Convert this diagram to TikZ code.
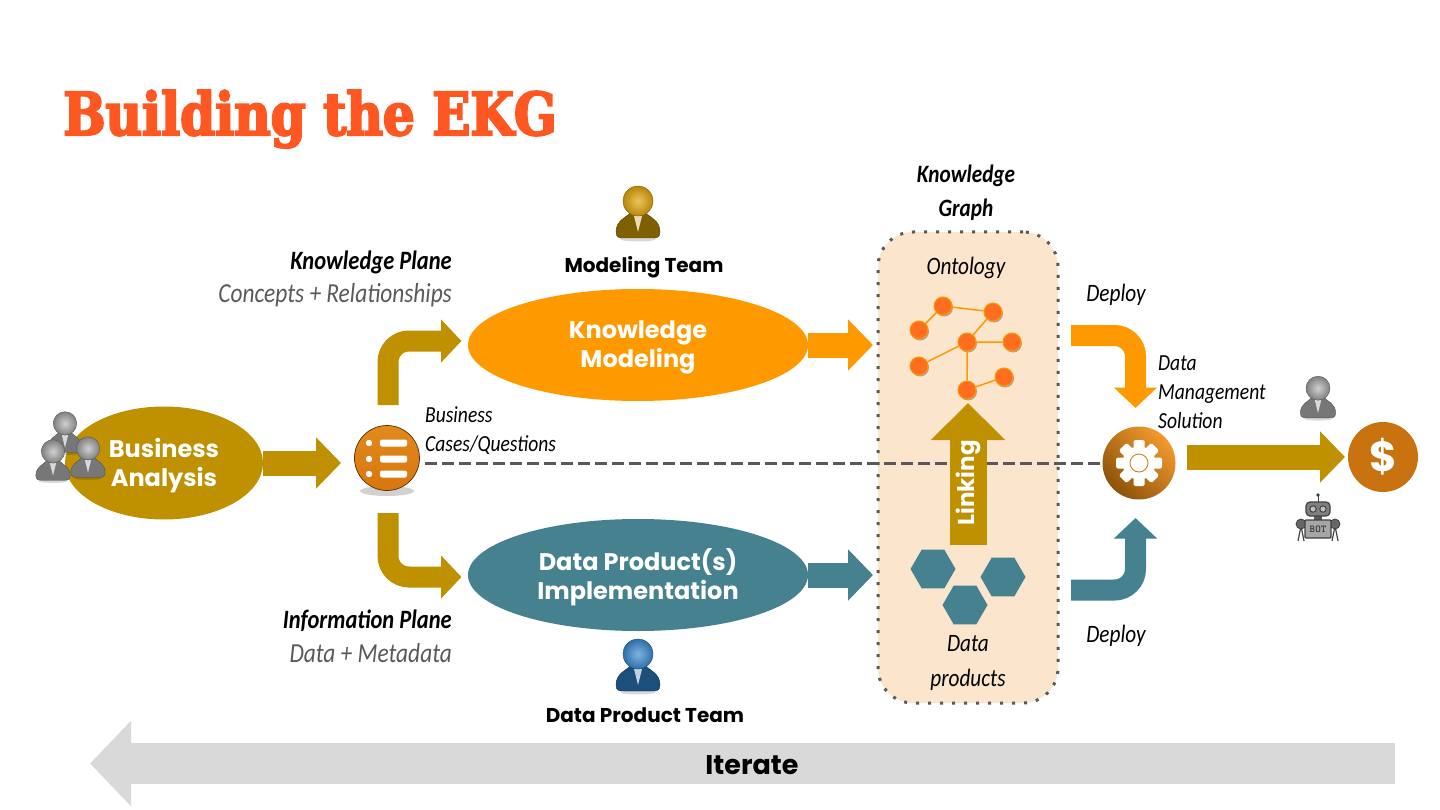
\documentclass[tikz,border=0pt]{standalone}
\usepackage{fontspec}
\setmainfont{Poppins}
\newfontfamily\titlefont[FakeStretch=0.85,FakeBold=3.5]{DejaVu Serif Bold}
\newfontfamily\hand[FakeStretch=0.85]{Carlito}
\usetikzlibrary{arrows.meta,shapes.geometric,shadows}
\definecolor{kgold}{HTML}{BF9000}
\definecolor{korange}{HTML}{FF9900}
\definecolor{kteal}{HTML}{45818E}
\definecolor{kpeach}{HTML}{FCE5CD}
\definecolor{ktitle}{HTML}{FF5722}
\definecolor{kdash}{HTML}{595959}
\definecolor{kgrey}{HTML}{D9D9D9}
\definecolor{kdollar}{HTML}{C8730F}
\definecolor{knode}{HTML}{FF6D1F}
\definecolor{listtop}{HTML}{E08A1C}
\definecolor{listbot}{HTML}{D9760F}
\definecolor{geartop}{HTML}{F39A2E}
\definecolor{gearbot}{HTML}{8C5208}
\definecolor{greyhead}{HTML}{808080}
\definecolor{greylight}{HTML}{D0D0D0}
\definecolor{greybody}{HTML}{777777}
\definecolor{goldhead}{HTML}{B8860B}
\definecolor{goldlight}{HTML}{EAC55A}
\definecolor{goldbody}{HTML}{7F6000}
\definecolor{bluehead}{HTML}{2F6FA8}
\definecolor{bluelight}{HTML}{7FB3E0}
\definecolor{bluebody}{HTML}{1C4F7A}
\tikzset{
    pics/person/.style n args={3}{code={
        \fill[black, opacity=0.15] (0,27) ellipse (18 and 2.5);
        \fill[#3, draw=#3!70!black] (-22,20) .. controls (-22,8) and (-12,6) .. (-7,0) -- (7,0) .. controls (12,6) and (22,8) .. (22,20) .. controls (22,26) and (18,26) .. (14,26) -- (-14,26) .. controls (-18,26) and (-22,26) .. (-22,20);
        \fill[white!70!#1] (-4,4) -- (4,4) -- (0,20) -- cycle;
        \shade[inner color=#2, outer color=#1, draw=#1!70!black] (0,-11) circle (15);
    }},
    pics/robot/.style={code={
        \draw[black!75, line width=1pt] (0,-15) -- (0,-22);
        \fill[black!75] (0,-23) circle (1.8);
        \fill[black!65] (-4,-3) rectangle (4,3);
        \draw[black!75, fill=black!50, line width=1.2pt, rounded corners=4pt] (-12,-16) rectangle (12,-2);
        \draw[black!75, fill=black!25, line width=1pt] (-5,-9) circle (3.2) (5,-9) circle (3.2);
        \draw[black!75, line width=1.2pt] (-17,8) -- (-20,23) (-17,8) -- (-14,23) (17,8) -- (20,23) (17,8) -- (14,23);
        \draw[black!75, fill=black!60, line width=0.8pt] (-17,6) circle (5) (17,6) circle (5);
        \draw[black!75, fill=black!35, line width=1.2pt, rounded corners=1pt] (-13,2) rectangle (13,20);
        \node[font=\ttfamily\bfseries\fontsize{10.5}{10.5}\selectfont, text=black!80, inner sep=0pt] (bot) at (0,11) {BOT};
    }}
}
\begin{document}
\begin{tikzpicture}[x=1pt, y=-1pt,
    fat/.style={line width=#1pt, -{Triangle[length=25pt, width=50pt]}},
    bent/.style={line width=21pt, rounded corners=21pt, -{Triangle[length=20.5pt, width=42pt]}},
    blob/.style={ellipse, minimum width=340pt, minimum height=112pt, inner sep=0pt},
    blobtext/.style={text=white, align=center, inner sep=0pt, font=\bfseries\fontsize{24}{29}\selectfont},
    team/.style={font=\bfseries\fontsize{20}{24}\selectfont, text=black, inner sep=0pt},
    note/.style={font=\hand\itshape\fontsize{25}{30}\selectfont, inner sep=0pt, align=center},
    plane/.style={note, anchor=east, font=\hand\bfseries\itshape\fontsize{26.5}{30}\selectfont},
    sublabel/.style={note, anchor=east, text=black!65, font=\hand\itshape\fontsize{27.5}{30}\selectfont},
    onto/.style={circle, fill=knode, draw=korange, line width=1pt, minimum size=18pt, inner sep=0pt, drop shadow={shadow xshift=1pt, shadow yshift=-1.5pt, opacity=0.3, fill=black}},
    edge link/.style={korange, line width=1.5pt},
    hex/.style={regular polygon, regular polygon sides=6, fill=kteal, minimum size=45pt, inner sep=0pt}]
    \useasboundingbox (0,0) rectangle (1440,810);
    \node[font=\titlefont\fontsize{59}{59}\selectfont, text=ktitle, anchor=base west, inner sep=0pt] (title) at (63,135) {Building the EKG};

    \node[blob, fill=kgold, minimum width=198pt, minimum height=113pt] (analysis) at (164,463) {};
    \node[blob, fill=korange] (modeling) at (638,345) {};
    \node[blob, fill=kteal] (product) at (638,575) {};
    \node[blobtext] (analysistext) at (164,465.5) {Business\\Analysis};
    \node[blobtext] (modelingtext) at (638,347.5) {Knowledge\\Modeling};
    \node[blobtext] (producttext) at (638,577.5) {Data Product(s)\\Implementation};

    \node[draw=kdash, fill=kpeach, line width=3pt, dash pattern=on 3pt off 9pt, rounded corners=35pt, minimum width=180pt, minimum height=471pt, inner sep=0pt] (graph) at (968,467.5) {};

    \coordinate (dashstart) at (425,463);
    \coordinate (dashend) at (1105,463);
    \draw[kdash, line width=3pt, dash pattern=on 12pt off 5pt] (dashstart) -- (dashend);

    \fill[black, opacity=0.18] (387,491) ellipse (27 and 5);
    \node[circle, draw=black!60!kdollar, line width=0.7pt, top color=listtop, bottom color=listbot, minimum size=65pt, inner sep=0pt] (list) at (387,458) {};
    \foreach \y in {443,459,474} {
        \fill[white] (369,\y) circle (3.2);
        \fill[white, rounded corners=2pt] (380,{\y-3.5}) rectangle (407,{\y+3.5});
    }

    \coordinate (listtip) at (341,463);
    \draw[fat=25, kgold] (analysis.east) -- (listtip);
    \coordinate (listup) at (388,405);
    \coordinate (upperend) at (461.5,341);
    \draw[bent, kgold] (listup) |- (upperend);
    \coordinate (listdown) at (388,513);
    \coordinate (lowerend) at (461.5,577);
    \draw[bent, kgold] (listdown) |- (lowerend);
    \coordinate (modelingtip) at (873,345);
    \draw[fat=25, korange] (modeling.east) -- (modelingtip);
    \coordinate (producttip) at (873,575);
    \draw[fat=25, kteal] (product.east) -- (producttip);

    \node[onto] (o1) at (943,306) {};
    \node[onto] (o2) at (993,312) {};
    \node[onto] (o3) at (919,330) {};
    \node[onto] (o4) at (967,342) {};
    \node[onto] (o5) at (1012,342) {};
    \node[onto] (o6) at (919,366) {};
    \node[onto] (o7) at (967,390) {};
    \node[onto] (o8) at (1004,377) {};
    \draw[edge link] (o3) -- (o1) -- (o2) -- (o4) -- (o5);
    \draw[edge link] (o6) -- (o4) -- (o7) -- (o8);

    \node[hex] (h1) at (933,569) {};
    \node[hex] (h2) at (1003,577) {};
    \node[hex] (h3) at (965,605) {};

    \coordinate (linkstart) at (968,545);
    \coordinate (linktip) at (968,403);
    \draw[kgold, line width=37pt, -{Triangle[length=37pt, width=72pt]}] (linkstart) -- (linktip);
    \node[rotate=90, text=white, font=\bfseries\fontsize{23}{23}\selectfont, inner sep=0pt] (linking) at (968,483) {Linking};

    \node[circle, top color=geartop, bottom color=gearbot, shading angle=-45, minimum size=73pt, inner sep=0pt] (gear) at (1139,463) {};
    \foreach \a in {0,45,...,315} {
        \fill[white, rotate around={\a:(1139,463)}, rounded corners=1.5pt] (1133.5,440) rectangle (1144.5,450);
    }
    \fill[white] (1139,463) circle (16.5);
    \draw[korange!80!black, line width=0.8pt] (1139,463) circle (9);

    \coordinate (deployone) at (1071,335.5);
    \coordinate (gearup) at (1135.5,408);
    \draw[bent, korange] (deployone) -| (gearup);
    \coordinate (deploytwo) at (1071,590);
    \coordinate (geardown) at (1135.5,518);
    \draw[bent, kteal] (deploytwo) -| (geardown);

    \coordinate (geartail) at (1187,457);
    \coordinate (dollartip) at (1345,457);
    \draw[fat=25, kgold] (geartail) -- (dollartip);
    \node[circle, fill=kdollar, text=white, minimum size=70pt, inner sep=0pt, font=\bfseries\fontsize{42}{42}\selectfont] (dollar) at (1383,457) {\$};

    \pic (p1) at (65,432) [scale=0.78] {person={greyhead}{greylight}{greybody}};
    \pic (p2) at (53,460) [scale=0.78] {person={greyhead}{greylight}{greybody}};
    \pic (p3) at (88,457) [scale=0.78] {person={greyhead}{greylight}{greybody}};
    \pic (p4) at (1318,397) [scale=0.8] {person={greyhead}{greylight}{greybody}};
    \pic (p5) at (638,212) {person={goldhead}{goldlight}{goldbody}};
    \pic (p6) at (638,665) {person={bluehead}{bluelight}{bluebody}};
    \pic (robot) at (1318,518) {robot};

    \node[team] (modelingteam) at (644,267) {Modeling Team};
    \node[team] (productteam) at (645,715) {Data Product Team};

    \node[note, font=\hand\bfseries\itshape\fontsize{25}{34}\selectfont] (kglabel) at (966,193) {Knowledge\\Graph};
    \node[note] (ontology) at (966,268) {Ontology};
    \node[note, font=\hand\itshape\fontsize{25}{35}\selectfont] (datalabel) at (968,663) {Data\\products};
    \node[plane] (kplane) at (452,262) {Knowledge Plane};
    \node[sublabel] (concepts) at (452,295) {Concepts + Relationships};
    \node[plane] (iplane) at (452,621) {Information Plane};
    \node[sublabel] (metadata) at (452,653) {Data + Metadata};
    \node[note, anchor=west, align=left, font=\hand\itshape\fontsize{23}{29}\selectfont] (cases) at (425,430.5) {Business\\Cases/Questions};
    \node[note, anchor=west, align=left, font=\hand\itshape\fontsize{23}{29}\selectfont] (solution) at (1158,392) {Data\\Management\\Solution};
    \node[note] (deploya) at (1116,295) {Deploy};
    \node[note] (deployb) at (1116,636) {Deploy};

    \coordinate (iterstart) at (1395,763.5);
    \coordinate (itertip) at (90,763.5);
    \draw[kgrey, line width=41pt, -{Triangle[length=41pt, width=83pt]}] (iterstart) -- (itertip);
    \node[font=\bfseries\fontsize{27}{27}\selectfont, text=black, inner sep=0pt] (iterate) at (752,765) {Iterate};
\end{tikzpicture}
\end{document}
